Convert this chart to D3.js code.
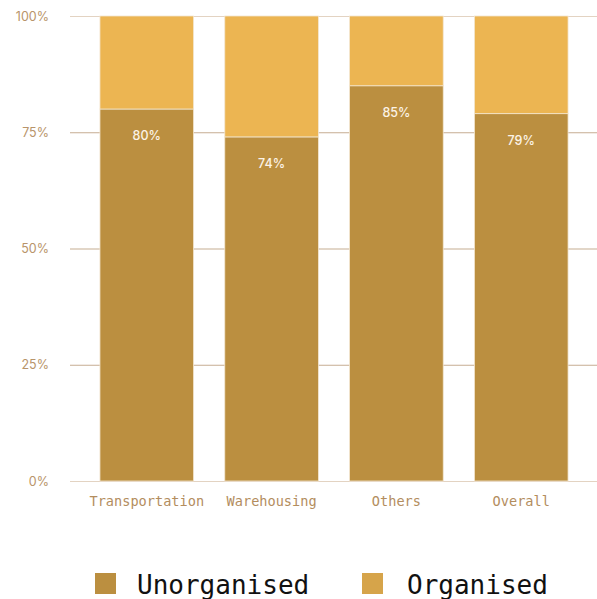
<!DOCTYPE html>
<html>
<head>
<meta charset="utf-8">
<script src="https://cdn.jsdelivr.net/npm/d3@7"></script>
<style>
  html, body { margin: 0; padding: 0; background: #ffffff; }
  svg { display: block; }
</style>
</head>
<body>
<svg id="chart" width="597" height="599"></svg>
<script>
// Share of workforce by segment (percent)
const categories = ["Transportation", "Warehousing", "Others", "Overall"];
const unorganised = [80, 74, 85, 79];
const organised = [20, 26, 15, 21];
const seriesNames = ["Unorganised", "Organised"];
const yTicks = [0, 25, 50, 75, 100];

const colors = {
  Unorganised: "#bb8f40",
  Organised: "#ecb552"
};
const legendColors = {
  Unorganised: "#bb8f40",
  Organised: "#d6a44a"
};

const svg = d3.select("#chart");
const margin = { top: 16, right: 0, bottom: 118, left: 70 };
const width = 597, height = 599;

const x = d3.scaleBand()
  .domain(categories)
  .range([margin.left, width + 1])
  .paddingInner(0.25)
  .paddingOuter(0.24);

const y = d3.scaleLinear()
  .domain([0, 100])
  .range([height - margin.bottom, margin.top]);

// Gridlines
svg.append("g")
  .selectAll("line")
  .data(yTicks)
  .join("line")
  .attr("x1", margin.left)
  .attr("x2", width)
  .attr("y1", d => y(d) + 0.5)
  .attr("y2", d => y(d) + 0.5)
  .attr("stroke", d => (d === 0 || d === 100) ? "#e3d3c2" : "#c6ad92")
  .attr("stroke-width", 1.2);

// Y tick labels
const yAxis = d3.axisLeft(y)
  .tickValues(yTicks)
  .tickFormat(d => d + "%")
  .tickSize(0)
  .tickPadding(0);
const gy = svg.append("g")
  .attr("transform", `translate(49,0)`)
  .call(yAxis);
gy.select(".domain").remove();
gy.selectAll("text")
  .attr("fill", "#b8946a")
  .style("font-family", "Inter, 'Noto Sans', sans-serif")
  .style("font-size", "12.5px");

// Stacked bars
const rows = categories.map((c, i) => ({ category: c, Unorganised: unorganised[i], Organised: organised[i] }));
const stacked = d3.stack().keys(seriesNames)(rows);

svg.append("g")
  .selectAll("g")
  .data(stacked)
  .join("g")
  .attr("fill", d => colors[d.key])
  .selectAll("rect")
  .data(d => d)
  .join("rect")
  .attr("x", d => x(d.data.category))
  .attr("y", d => y(d[1]))
  .attr("width", x.bandwidth())
  .attr("height", d => y(d[0]) - y(d[1]))
  .attr("stroke", "#f3e6d0")
  .attr("stroke-width", 0.8);

// Value labels inside the unorganised segment
svg.append("g")
  .selectAll("text")
  .data(rows)
  .join("text")
  .attr("x", d => x(d.category) + x.bandwidth() / 2)
  .attr("y", d => y(d.Unorganised) + 31)
  .attr("text-anchor", "middle")
  .attr("fill", "#fbf3e6")
  .style("font-family", "Inter, 'Noto Sans', sans-serif")
  .style("font-weight", "500")
  .style("font-size", "12.5px")
  .text(d => d.Unorganised + "%");

// X axis labels
const xAxis = d3.axisBottom(x).tickSize(0).tickPadding(15);
const gx = svg.append("g")
  .attr("transform", `translate(0,${height - margin.bottom})`)
  .call(xAxis);
gx.select(".domain").remove();
gx.selectAll("text")
  .attr("fill", "#b38d5e")
  .style("font-family", "'DejaVu Sans Mono', 'Liberation Mono', monospace")
  .style("font-size", "13.6px");

// Legend
const legendItems = [
  { name: "Unorganised", sx: 95, tx: 137 },
  { name: "Organised", sx: 362, tx: 407 }
];
const legend = svg.append("g");
legend.selectAll("rect")
  .data(legendItems)
  .join("rect")
  .attr("x", d => d.sx)
  .attr("y", 573)
  .attr("width", 21)
  .attr("height", 21)
  .attr("fill", d => legendColors[d.name]);
legend.selectAll("text")
  .data(legendItems)
  .join("text")
  .attr("x", d => d.tx)
  .attr("y", 594)
  .attr("fill", "#111111")
  .style("font-family", "'DejaVu Sans Mono', 'Liberation Mono', monospace")
  .style("font-size", "26px")
  .text(d => d.name);
</script>
</body>
</html>
